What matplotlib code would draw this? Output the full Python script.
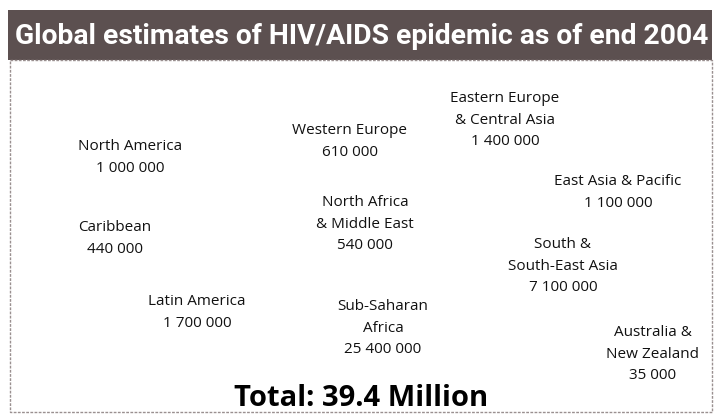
import matplotlib.pyplot as plt
from matplotlib.patches import Rectangle

# 数据
regions = ['North America', 'Western Europe', 'Eastern Europe\n& Central Asia',
           'East Asia & Pacific', 'Caribbean', 'North Africa\n& Middle East',
           'South &\nSouth-East Asia', 'Latin America', 'Sub-Saharan\nAfrica',
           'Australia &\nNew Zealand']
values = ['1 000 000', '610 000', '1 400 000', '1 100 000', '440 000', '540 000',
          '7 100 000', '1 700 000', '25 400 000', '35 000']
title = 'Global estimates of HIV/AIDS epidemic as of end 2004'
total = 'Total: 39.4 Million'

# 版面位置（像素，左上为原点，文字块顶部）
pos_x = [130, 350, 505, 618, 115, 365, 563, 197, 383, 653]
pos_y = [139, 123, 91, 174, 220, 195, 237, 294, 299, 325]

fig = plt.figure(figsize=(7.17, 4.18), dpi=100)
ax = fig.add_axes([0, 0, 1, 1])
ax.set_xlim(0, 717)
ax.set_ylim(418, 0)
ax.axis('off')

# 标题栏
ax.add_patch(Rectangle((8, 10), 704, 50, facecolor='#5c5050', edgecolor='none'))
ax.text(362, 37, title, color='white', fontsize=20.3, fontweight='bold',
        family='Roboto', ha='center', va='center')

# 边框
ax.add_patch(Rectangle((10, 60), 702, 352, facecolor='none', edgecolor='#9a9090',
                       linewidth=1.0, linestyle=(0, (2, 1))))

for r, v, x, y in zip(regions, values, pos_x, pos_y):
    ax.text(x, y, r + '\n' + v, fontsize=11, family='Open Sans', ha='center',
            va='top', linespacing=1.6, color='#111111')

ax.text(361, 399, total, fontsize=21, fontweight='bold', family='Open Sans',
        ha='center', va='center', color='black')

plt.savefig('out.png', dpi=100)
